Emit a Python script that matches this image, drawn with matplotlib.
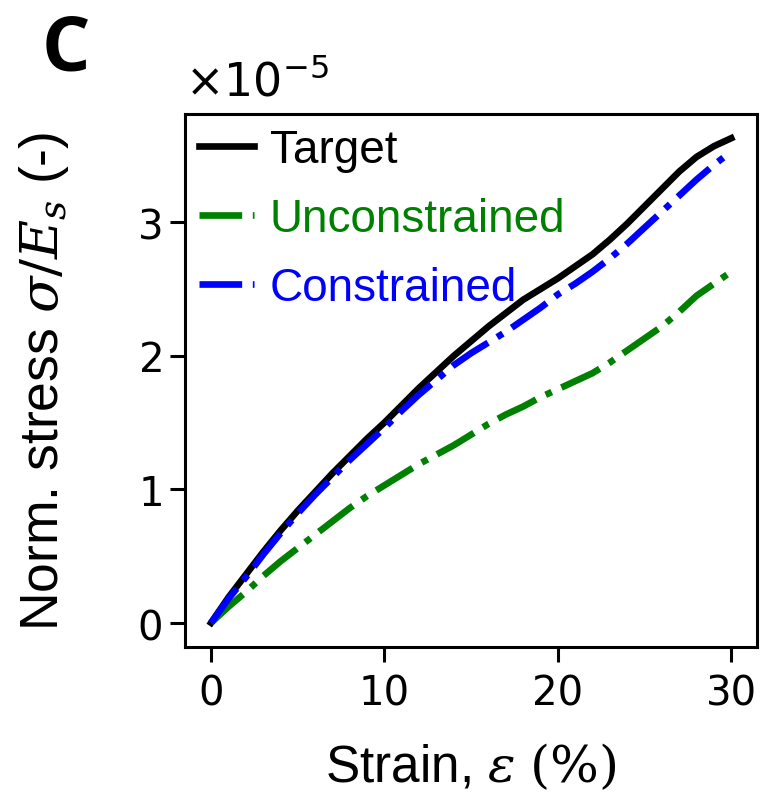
import numpy as np
import matplotlib.pyplot as plt
from matplotlib.ticker import ScalarFormatter

# strain values (%) and normalised stress (x1e-5)
strain = list(range(0, 31))
target = [0, 0.19, 0.36, 0.53, 0.69, 0.84, 0.98, 1.12, 1.25, 1.38, 1.50,
          1.63, 1.76, 1.88, 2.00, 2.11, 2.22, 2.32, 2.42, 2.50, 2.58,
          2.67, 2.76, 2.87, 2.99, 3.12, 3.25, 3.38, 3.49, 3.57, 3.63]
unconstrained = [0, 0.12, 0.23, 0.35, 0.46, 0.56, 0.66, 0.76, 0.86, 0.95, 1.03,
                 1.11, 1.19, 1.26, 1.33, 1.41, 1.49, 1.56, 1.62, 1.69, 1.75,
                 1.81, 1.87, 1.95, 2.04, 2.13, 2.22, 2.33, 2.45, 2.54, 2.63]
constrained = [0, 0.18, 0.34, 0.51, 0.67, 0.82, 0.96, 1.09, 1.22, 1.34, 1.46,
               1.59, 1.71, 1.82, 1.93, 2.02, 2.10, 2.18, 2.27, 2.36, 2.46,
               2.54, 2.63, 2.73, 2.84, 2.96, 3.08, 3.20, 3.32, 3.43, 3.53]

plt.rcParams['mathtext.fontset'] = 'dejavuserif'

fig = plt.figure(figsize=(7.68, 8.04), dpi=100)
ax = fig.add_axes([0.241, 0.194, 0.745, 0.663])

x = np.array(strain)
ax.plot(x, np.array(target) * 1e-5, color='black', lw=4.8, label='Target')
ax.plot(x, np.array(unconstrained) * 1e-5, color='green', lw=4.8, ls='-.', label='Unconstrained')
ax.plot(x, np.array(constrained) * 1e-5, color='blue', lw=4.8, ls='-.', label='Constrained')

fmt = ScalarFormatter(useMathText=True)
ax.yaxis.set_major_formatter(fmt)
ax.set_xticks([0, 10, 20, 30])
ax.set_yticks([0, 1e-5, 2e-5, 3e-5])
ax.tick_params(labelsize=29, length=11, width=2.2, pad=8)
ax.tick_params(axis='y', pad=6)
# offset label drawn by hand so it can sit where the original has it
ax.yaxis.get_offset_text().set_visible(False)
ax.text(0.0, 1.015, r'$\times10^{-5}$', transform=ax.transAxes, fontsize=33,
        family='DejaVu Sans', math_fontfamily='dejavusans', va='bottom')
for s in ax.spines.values():
    s.set_linewidth(2.2)

ax.set_xlabel(r'Strain, $\varepsilon$ $(\%)$', fontsize=37, family='Liberation Sans', labelpad=20)
ax.set_ylabel(r'Norm. stress $\sigma/E_s$ (-)', fontsize=38.5, family='Liberation Sans', labelpad=47)

leg = ax.legend(loc='upper left', frameon=False, prop={'family': 'Liberation Sans', 'size': 33},
                handlelength=1.2, handletextpad=0.35, borderaxespad=0.1, borderpad=0.2,
                labelspacing=0.55)
for txt, c in zip(leg.get_texts(), ['black', 'green', 'blue']):
    txt.set_color(c)

fig.text(0.054, 0.912, 'C', fontsize=55, fontweight='bold', family='Open Sans', va='baseline')

fig.savefig('out.png', dpi=100)
